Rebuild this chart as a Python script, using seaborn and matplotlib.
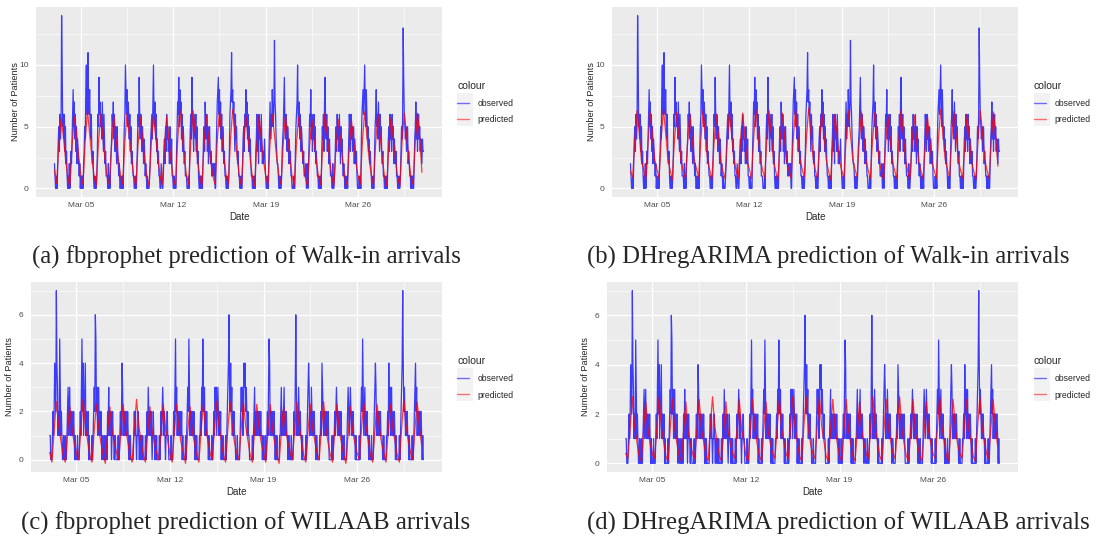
import numpy as np
import pandas as pd
import matplotlib
matplotlib.use('Agg')
import matplotlib.pyplot as plt
import matplotlib.dates as mdates
from matplotlib.lines import Line2D
from matplotlib.patches import Rectangle
import seaborn as sns

# observed arrivals, hourly (00h .. 23h), one row per day, Mar 03 .. Mar 30
walkin_obs = [
    [2, 1, 0, 0, 1, 0, 2, 4, 5, 3, 6, 4, 5, 14, 10, 5, 6, 4, 6, 3, 5, 2, 3, 1],
    [0, 1, 0, 2, 0, 1, 3, 2, 4, 6, 8, 5, 7, 4, 6, 3, 5, 2, 4, 3, 2, 1, 2, 0],
    [1, 0, 0, 1, 0, 2, 3, 5, 4, 8, 10, 6, 8, 11, 7, 6, 8, 5, 4, 6, 3, 2, 3, 1],
    [0, 0, 1, 0, 0, 1, 3, 6, 5, 9, 6, 7, 5, 6, 4, 7, 5, 3, 6, 4, 2, 3, 1, 1],
    [1, 0, 2, 0, 1, 0, 2, 3, 4, 6, 5, 7, 4, 6, 3, 5, 4, 2, 5, 3, 2, 1, 2, 0],
    [0, 1, 0, 0, 1, 0, 3, 5, 6, 10, 8, 6, 8, 5, 7, 6, 4, 6, 3, 5, 2, 3, 2, 1],
    [1, 0, 0, 1, 0, 0, 2, 4, 6, 5, 9, 6, 4, 6, 5, 3, 5, 4, 2, 4, 3, 1, 2, 1],
    [0, 1, 0, 0, 0, 1, 2, 4, 5, 6, 4, 7, 10, 6, 5, 7, 4, 6, 3, 4, 2, 3, 1, 1],
    [0, 0, 2, 1, 0, 0, 1, 3, 4, 2, 5, 3, 6, 4, 5, 3, 4, 2, 5, 3, 2, 4, 1, 1],
    [0, 0, 1, 0, 0, 0, 3, 5, 7, 6, 9, 5, 8, 6, 7, 4, 6, 3, 5, 4, 2, 3, 1, 1],
    [1, 0, 0, 0, 1, 0, 3, 5, 6, 4, 9, 6, 5, 3, 6, 5, 4, 6, 3, 5, 2, 3, 1, 0],
    [0, 1, 0, 1, 0, 0, 2, 4, 5, 3, 7, 5, 4, 6, 3, 5, 2, 4, 5, 3, 2, 3, 1, 1],
    [2, 2, 1, 2, 0, 0, 3, 5, 7, 8, 9, 6, 8, 5, 7, 4, 6, 3, 5, 4, 2, 3, 1, 1],
    [0, 0, 1, 0, 0, 1, 3, 6, 7, 8, 11, 7, 8, 6, 7, 5, 3, 6, 4, 5, 3, 2, 3, 1],
    [1, 0, 0, 1, 0, 0, 2, 4, 5, 3, 6, 5, 8, 5, 7, 4, 6, 3, 5, 3, 4, 2, 1, 1],
    [0, 1, 0, 0, 1, 0, 3, 4, 6, 3, 5, 2, 6, 4, 5, 3, 6, 4, 2, 3, 2, 3, 4, 2],
    [1, 0, 0, 1, 0, 0, 3, 5, 7, 4, 6, 5, 8, 6, 5, 7, 12, 7, 6, 4, 3, 2, 2, 1],
    [0, 0, 1, 0, 0, 1, 3, 4, 5, 7, 9, 5, 4, 6, 5, 3, 5, 4, 2, 4, 2, 3, 1, 1],
    [0, 0, 0, 1, 0, 0, 3, 5, 6, 7, 10, 6, 5, 7, 4, 6, 3, 5, 4, 3, 2, 3, 1, 1],
    [1, 2, 0, 1, 2, 0, 2, 4, 6, 5, 8, 4, 6, 3, 5, 4, 6, 3, 5, 2, 3, 2, 1, 1],
    [0, 1, 0, 0, 1, 0, 3, 5, 4, 6, 3, 7, 9, 5, 4, 6, 3, 5, 4, 2, 4, 2, 1, 1],
    [1, 0, 2, 0, 0, 1, 2, 4, 5, 3, 6, 4, 5, 3, 6, 4, 2, 5, 3, 4, 2, 1, 2, 1],
    [0, 1, 0, 0, 1, 0, 2, 4, 6, 5, 3, 6, 4, 5, 3, 4, 5, 2, 4, 3, 2, 3, 1, 0],
    [0, 0, 1, 0, 1, 0, 4, 6, 7, 8, 6, 8, 10, 7, 5, 8, 6, 4, 5, 3, 4, 2, 3, 2],
    [1, 0, 0, 1, 0, 0, 3, 5, 6, 8, 5, 6, 4, 7, 5, 3, 6, 4, 5, 3, 2, 3, 1, 1],
    [0, 1, 0, 0, 1, 0, 2, 4, 5, 3, 6, 4, 5, 3, 6, 4, 5, 2, 4, 3, 2, 3, 1, 1],
    [0, 0, 1, 0, 0, 1, 3, 5, 4, 6, 13, 9, 6, 5, 4, 5, 3, 4, 5, 2, 3, 2, 1, 1],
    [0, 1, 0, 1, 0, 0, 2, 4, 5, 7, 4, 6, 3, 5, 6, 4, 5, 3, 4, 3, 2, 4, 3, 3],
]

wilaab_obs = [
    [1, 1, 0, 0, 0, 1, 2, 1, 2, 4, 3, 2, 7, 4, 3, 1, 2, 1, 5, 3, 1, 2, 1, 0],
    [0, 1, 0, 0, 1, 0, 0, 1, 2, 3, 1, 2, 3, 1, 2, 1, 2, 1, 1, 2, 1, 0, 1, 0],
    [0, 0, 1, 0, 0, 0, 1, 2, 1, 3, 5, 2, 4, 1, 2, 3, 4, 1, 2, 1, 1, 2, 0, 1],
    [0, 0, 0, 0, 1, 0, 1, 2, 3, 2, 6, 5, 2, 3, 1, 2, 3, 1, 2, 1, 2, 1, 0, 1],
    [1, 0, 0, 1, 0, 0, 1, 0, 2, 1, 3, 1, 2, 1, 2, 0, 1, 2, 1, 1, 0, 1, 1, 0],
    [0, 0, 0, 1, 0, 0, 1, 2, 1, 2, 4, 3, 1, 2, 1, 2, 1, 2, 1, 1, 2, 1, 0, 1],
    [0, 1, 0, 0, 0, 0, 0, 1, 2, 1, 2, 1, 0, 1, 1, 2, 1, 0, 1, 1, 0, 1, 0, 1],
    [0, 0, 0, 0, 1, 0, 1, 2, 1, 3, 2, 1, 2, 1, 2, 1, 0, 1, 2, 1, 1, 0, 1, 0],
    [1, 0, 0, 0, 0, 1, 0, 1, 2, 1, 2, 3, 2, 1, 2, 1, 0, 1, 1, 2, 1, 1, 0, 0],
    [0, 0, 1, 0, 0, 0, 1, 2, 1, 3, 5, 2, 3, 1, 2, 1, 2, 1, 2, 1, 1, 2, 0, 1],
    [0, 0, 0, 0, 1, 0, 1, 2, 3, 2, 5, 3, 1, 2, 1, 2, 2, 1, 1, 2, 1, 0, 1, 0],
    [1, 0, 0, 0, 0, 1, 1, 2, 1, 3, 2, 5, 3, 2, 3, 1, 2, 1, 2, 1, 1, 0, 1, 0],
    [0, 0, 0, 1, 0, 0, 1, 2, 1, 3, 2, 3, 1, 2, 3, 2, 1, 2, 1, 2, 0, 1, 0, 1],
    [0, 0, 0, 0, 1, 0, 1, 2, 3, 4, 6, 3, 2, 4, 2, 3, 1, 2, 1, 2, 1, 1, 0, 0],
    [0, 1, 0, 0, 0, 0, 1, 2, 3, 2, 3, 1, 2, 4, 3, 4, 2, 3, 2, 1, 2, 1, 1, 0],
    [0, 0, 0, 0, 1, 0, 1, 2, 3, 1, 2, 1, 2, 1, 2, 1, 2, 1, 1, 2, 1, 1, 0, 1],
    [0, 0, 0, 1, 0, 0, 1, 2, 1, 3, 5, 4, 1, 2, 1, 2, 1, 2, 1, 2, 1, 0, 1, 0],
    [1, 0, 0, 0, 0, 1, 1, 2, 3, 1, 2, 1, 2, 3, 1, 2, 1, 2, 1, 1, 0, 1, 1, 0],
    [0, 0, 1, 0, 0, 0, 1, 2, 1, 3, 6, 3, 1, 2, 1, 3, 2, 1, 2, 1, 1, 0, 1, 0],
    [0, 0, 0, 0, 1, 0, 1, 2, 3, 4, 3, 1, 2, 1, 3, 2, 1, 2, 1, 2, 1, 1, 0, 1],
    [1, 0, 0, 0, 0, 1, 1, 2, 1, 4, 3, 2, 1, 2, 1, 2, 1, 2, 1, 1, 2, 1, 0, 0],
    [0, 0, 0, 1, 0, 0, 1, 1, 2, 1, 2, 3, 2, 1, 2, 1, 2, 1, 1, 2, 1, 0, 1, 0],
    [0, 1, 0, 0, 0, 0, 1, 2, 3, 2, 1, 2, 3, 2, 1, 2, 1, 2, 1, 1, 1, 0, 1, 0],
    [0, 0, 0, 0, 1, 0, 1, 2, 3, 2, 5, 3, 1, 2, 3, 1, 2, 1, 2, 1, 1, 0, 1, 0],
    [0, 0, 1, 0, 0, 0, 1, 2, 3, 4, 3, 1, 2, 1, 2, 1, 2, 1, 2, 1, 1, 1, 0, 0],
    [1, 0, 0, 0, 0, 1, 1, 2, 1, 4, 2, 3, 1, 2, 3, 1, 2, 1, 1, 2, 1, 0, 1, 0],
    [0, 0, 0, 0, 1, 0, 1, 2, 3, 4, 7, 4, 2, 3, 2, 1, 2, 1, 2, 1, 1, 0, 1, 0],
    [0, 0, 0, 1, 0, 0, 1, 2, 3, 4, 2, 3, 1, 2, 2, 1, 2, 1, 2, 2, 1, 0, 1, 0],
]

# predictions, 4-hourly (00h, 04h, 08h, 12h, 16h, 20h), one row per day
walkin_prophet = [
    [1.5, 0.4, 3.6, 5.7, 4.3, 2.4], [1.0, 0.2, 3.4, 5.8, 4.5, 2.6],
    [1.1, 0.3, 3.9, 6.3, 4.4, 2.5], [1.0, 0.2, 3.7, 6.0, 4.2, 2.3],
    [0.9, 0.3, 3.6, 5.9, 4.0, 2.4], [1.1, 0.3, 3.8, 6.1, 4.3, 2.5],
    [1.0, 0.2, 3.5, 5.8, 4.1, 2.3], [0.9, 0.2, 3.6, 5.9, 4.2, 2.4],
    [1.0, 0.3, 3.5, 5.8, 4.0, 2.2], [0.9, 0.2, 3.9, 6.3, 4.4, 2.5],
    [1.1, 0.3, 3.9, 6.3, 4.3, 2.4], [1.0, 0.2, 3.6, 5.9, 4.1, 2.3],
    [1.0, 0.3, 3.9, 6.3, 4.4, 2.5], [1.1, 0.3, 3.9, 6.4, 4.5, 2.6],
    [1.0, 0.2, 3.6, 5.9, 4.1, 2.3], [0.9, 0.2, 3.6, 5.9, 4.0, 2.3],
    [1.0, 0.3, 3.7, 6.0, 4.3, 2.5], [1.1, 0.3, 3.7, 5.9, 4.2, 2.4],
    [1.0, 0.2, 3.6, 5.8, 4.1, 2.3], [0.9, 0.2, 3.5, 5.6, 4.0, 2.2],
    [1.0, 0.3, 3.8, 6.1, 4.3, 2.4], [1.0, 0.2, 3.5, 5.6, 3.9, 2.2],
    [0.9, 0.2, 3.4, 5.5, 3.8, 2.1], [1.0, 0.3, 3.9, 6.2, 4.3, 2.4],
    [1.1, 0.3, 3.7, 6.0, 4.2, 2.4], [1.0, 0.2, 3.6, 5.8, 4.0, 2.3],
    [0.9, 0.2, 3.8, 6.1, 4.4, 2.5], [1.0, 0.3, 3.8, 6.1, 4.2, 1.3],
]

walkin_arima = [
    [1.4, 0.9, 4.0, 6.3, 4.4, 2.2], [1.5, 0.8, 3.8, 6.1, 4.3, 2.3],
    [1.6, 0.8, 4.1, 6.4, 4.5, 2.4], [1.5, 0.7, 3.9, 6.2, 4.2, 2.2],
    [1.4, 0.8, 3.8, 6.0, 4.1, 2.3], [1.6, 0.9, 4.0, 6.3, 4.4, 2.4],
    [1.5, 0.7, 3.7, 6.0, 4.2, 2.2], [1.4, 0.8, 3.9, 6.2, 4.3, 2.3],
    [1.5, 0.8, 3.8, 6.1, 4.1, 2.2], [1.6, 0.8, 4.1, 6.4, 4.4, 2.4],
    [1.5, 0.9, 4.0, 6.3, 4.3, 2.3], [1.4, 0.7, 3.8, 6.1, 4.2, 2.2],
    [1.5, 0.8, 4.0, 6.4, 4.4, 2.4], [1.6, 0.9, 4.1, 6.5, 4.5, 2.5],
    [1.5, 0.8, 3.8, 6.1, 4.2, 2.3], [1.4, 0.7, 3.8, 6.0, 4.1, 2.2],
    [1.5, 0.8, 4.0, 6.3, 4.4, 2.4], [1.6, 0.9, 3.9, 6.2, 4.3, 2.3],
    [1.5, 0.8, 3.8, 6.1, 4.2, 2.3], [1.4, 0.7, 3.7, 5.9, 4.1, 2.2],
    [1.5, 0.8, 4.0, 6.3, 4.4, 2.4], [1.4, 0.7, 3.7, 5.9, 4.0, 2.2],
    [1.4, 0.8, 3.6, 5.8, 4.0, 2.1], [1.5, 0.8, 4.0, 6.4, 4.4, 2.4],
    [1.6, 0.9, 3.9, 6.2, 4.3, 2.3], [1.5, 0.8, 3.8, 6.0, 4.1, 2.2],
    [1.4, 0.7, 4.0, 6.3, 4.5, 2.4], [1.5, 0.8, 3.9, 6.2, 4.2, 1.8],
]

wilaab_prophet = [
    [0.3, -0.1, 1.2, 2.4, 1.4, 0.8], [0.2, -0.1, 1.1, 2.2, 1.3, 0.7],
    [0.3, 0.0, 1.3, 2.5, 1.4, 0.8], [0.2, -0.1, 1.2, 2.3, 1.3, 0.7],
    [0.2, -0.15, 1.1, 2.2, 1.2, 0.7], [0.3, 0.0, 1.2, 2.3, 1.3, 0.8],
    [0.2, -0.1, 1.3, 2.5, 1.4, 0.8], [0.2, -0.1, 1.1, 2.2, 1.2, 0.7],
    [0.3, 0.0, 1.2, 2.3, 1.3, 0.8], [0.2, -0.1, 1.2, 2.3, 1.3, 0.7],
    [0.3, -0.15, 1.2, 2.2, 1.2, 0.7], [0.2, -0.1, 1.2, 2.3, 1.3, 0.8],
    [0.3, 0.0, 1.3, 2.4, 1.4, 0.8], [0.2, -0.1, 1.3, 2.4, 1.3, 0.7],
    [0.3, 0.0, 1.3, 2.4, 1.4, 0.8], [0.2, -0.1, 1.2, 2.3, 1.3, 0.7],
    [0.3, -0.1, 1.2, 2.3, 1.3, 0.7], [0.2, -0.15, 1.1, 2.2, 1.2, 0.7],
    [0.3, 0.0, 1.3, 2.4, 1.4, 0.8], [0.2, -0.1, 1.2, 2.3, 1.3, 0.8],
    [0.3, 0.0, 1.3, 2.4, 1.3, 0.7], [0.2, -0.1, 1.2, 2.3, 1.2, 0.7],
    [0.2, -0.15, 1.1, 2.2, 1.2, 0.7], [0.3, 0.0, 1.3, 2.4, 1.4, 0.8],
    [0.2, -0.1, 1.2, 2.3, 1.3, 0.7], [0.3, -0.1, 1.2, 2.3, 1.3, 0.8],
    [0.2, -0.1, 1.3, 2.5, 1.4, 0.8], [0.3, 0.0, 1.3, 2.4, 1.3, 0.6],
]

wilaab_arima = [
    [0.4, 0.2, 1.4, 2.7, 1.5, 0.9], [0.3, 0.1, 1.3, 2.5, 1.4, 0.8],
    [0.4, 0.2, 1.5, 2.7, 1.5, 0.9], [0.3, 0.1, 1.4, 2.6, 1.4, 0.8],
    [0.3, 0.1, 1.3, 2.5, 1.3, 0.8], [0.4, 0.2, 1.4, 2.6, 1.4, 0.9],
    [0.3, 0.1, 1.5, 2.7, 1.5, 0.9], [0.3, 0.1, 1.3, 2.5, 1.3, 0.8],
    [0.4, 0.2, 1.4, 2.6, 1.4, 0.9], [0.3, 0.1, 1.4, 2.6, 1.4, 0.8],
    [0.3, 0.1, 1.4, 2.5, 1.3, 0.8], [0.4, 0.2, 1.4, 2.6, 1.4, 0.9],
    [0.4, 0.2, 1.5, 2.7, 1.5, 0.9], [0.3, 0.1, 1.5, 2.7, 1.4, 0.8],
    [0.4, 0.2, 1.5, 2.7, 1.5, 0.9], [0.3, 0.1, 1.4, 2.6, 1.4, 0.8],
    [0.3, 0.1, 1.4, 2.6, 1.4, 0.8], [0.3, 0.1, 1.3, 2.5, 1.3, 0.8],
    [0.4, 0.2, 1.5, 2.7, 1.5, 0.9], [0.3, 0.1, 1.4, 2.6, 1.4, 0.9],
    [0.4, 0.2, 1.5, 2.7, 1.4, 0.8], [0.3, 0.1, 1.4, 2.6, 1.3, 0.8],
    [0.3, 0.1, 1.3, 2.5, 1.3, 0.8], [0.4, 0.2, 1.5, 2.7, 1.5, 0.9],
    [0.3, 0.1, 1.4, 2.6, 1.4, 0.8], [0.4, 0.2, 1.4, 2.6, 1.4, 0.9],
    [0.3, 0.1, 1.5, 2.7, 1.5, 0.9], [0.4, 0.2, 1.5, 2.6, 1.4, 0.7],
]

captions = [
    '(a) fbprophet prediction of Walk-in arrivals',
    '(b) DHregARIMA prediction of Walk-in arrivals',
    '(c) fbprophet prediction of WILAAB arrivals',
    '(d) DHregARIMA prediction of WILAAB arrivals',
]
series_names = ['observed', 'predicted']
major_dates = pd.to_datetime(['2020-03-05', '2020-03-12', '2020-03-19', '2020-03-26'])
minor_dates = pd.to_datetime(['2020-03-08 12:00', '2020-03-15 12:00',
                              '2020-03-22 12:00', '2020-03-29 12:00'])

obs_time = pd.date_range('2020-03-03', periods=28 * 24, freq='h')
pred_time = pd.date_range('2020-03-03', periods=28 * 6, freq='4h')


def make_frame(obs, pred):
    a = pd.DataFrame({'date': obs_time, 'value': np.ravel(obs), 'colour': 'observed'})
    b = pd.DataFrame({'date': pred_time, 'value': np.ravel(pred), 'colour': 'predicted'})
    return pd.concat([a, b], ignore_index=True)


sns.set_style('darkgrid', {'axes.facecolor': '#EBEBEB', 'grid.color': 'white'})
plt.rcParams['font.family'] = ['Liberation Sans', 'DejaVu Sans']

W, H = 1107, 548
fig = plt.figure(figsize=(W / 100, H / 100), dpi=100)

# pixel boxes: (left, top, right, bottom), legend anchor, key box, caption centre
panels = [
    dict(box=(36, 7, 442, 197), obs=walkin_obs, pred=walkin_prophet,
         yt=[0, 5, 10], ym=[2.5, 7.5, 12.5], leg=(457, 81), key=(457, 93, 473, 126),
         cap=(246, 257)),
    dict(box=(612, 7, 1018, 197), obs=walkin_obs, pred=walkin_arima,
         yt=[0, 5, 10], ym=[2.5, 7.5, 12.5], leg=(1034, 81), key=(1034, 93, 1050, 126),
         cap=(828, 257)),
    dict(box=(31, 282, 442, 472), obs=wilaab_obs, pred=wilaab_prophet,
         yt=[0, 2, 4, 6], ym=[1, 3, 5, 7], leg=(457, 356), key=(457, 368, 473, 401),
         cap=(246, 523)),
    dict(box=(607, 282, 1018, 472), obs=wilaab_obs, pred=wilaab_arima,
         yt=[0, 2, 4, 6], ym=[1, 3, 5, 7], leg=(1034, 356), key=(1034, 368, 1050, 401),
         cap=(838, 523)),
]

for p, cap in zip(panels, captions):
    l, t, r, b = p['box']
    ax = fig.add_axes([l / W, 1 - b / H, (r - l) / W, (b - t) / H])
    df = make_frame(p['obs'], p['pred'])
    sns.lineplot(data=df, x='date', y='value', hue='colour', hue_order=series_names,
                 palette={'observed': 'blue', 'predicted': 'red'}, estimator=None,
                 alpha=0.75, lw=0.9, legend=False, ax=ax)

    # ggplot-style 5% expansion
    x0, x1 = mdates.date2num(df['date'].min()), mdates.date2num(df['date'].max())
    y0, y1 = df['value'].min(), df['value'].max()
    ax.set_xlim(x0 - 0.05 * (x1 - x0), x1 + 0.05 * (x1 - x0))
    ax.set_ylim(y0 - 0.05 * (y1 - y0), y1 + 0.05 * (y1 - y0))

    ax.set_xticks(mdates.date2num(major_dates))
    ax.set_xticks(mdates.date2num(minor_dates), minor=True)
    ax.xaxis.set_major_formatter(mdates.DateFormatter('%b %d'))
    ax.set_yticks(p['yt'])
    ax.set_yticks(p['ym'], minor=True)
    ax.grid(which='major', color='white', lw=0.9)
    ax.grid(which='minor', color='white', lw=0.45)
    ax.tick_params(which='major', length=2, width=0.6, color='#333333',
                   labelsize=6, labelcolor='#4D4D4D', pad=1.5)
    ax.tick_params(axis='y', which='major', pad=3.5)
    ax.tick_params(which='minor', length=0)
    for s in ax.spines.values():
        s.set_visible(False)

    ax.set_xlabel('Date', fontsize=7, va='center')
    ax.xaxis.set_label_coords(0.5, -0.105)
    ax.set_ylabel('Number of Patients', fontsize=6.6, va='center')
    ax.yaxis.set_label_coords(-21 / (r - l), 0.5)

    handles = [Line2D([], [], color='blue', alpha=0.55, lw=1),
               Line2D([], [], color='red', alpha=0.55, lw=1)]
    lx, ly = p['leg']
    leg = ax.legend(handles, series_names, title='colour', loc='upper left',
                    bbox_to_anchor=(lx / W, 1 - ly / H), bbox_transform=fig.transFigure,
                    frameon=False, fontsize=6.2, title_fontsize=7.5, handlelength=1.4,
                    handletextpad=1.0, borderpad=0, borderaxespad=0, labelspacing=0.9)
    leg._legend_box.align = 'left'
    k0, k1, k2, k3 = p['key']
    fig.add_artist(Rectangle((k0 / W, 1 - k3 / H), (k2 - k0) / W, (k3 - k1) / H,
                             transform=fig.transFigure, facecolor='#F2F2F2',
                             edgecolor='none', zorder=-1))

    cx, cy = p['cap']
    fig.text(cx / W, 1 - cy / H, cap, ha='center', va='center', fontsize=17.8,
             family=['Liberation Serif', 'DejaVu Serif'])

plt.savefig('out.png', dpi=100)
